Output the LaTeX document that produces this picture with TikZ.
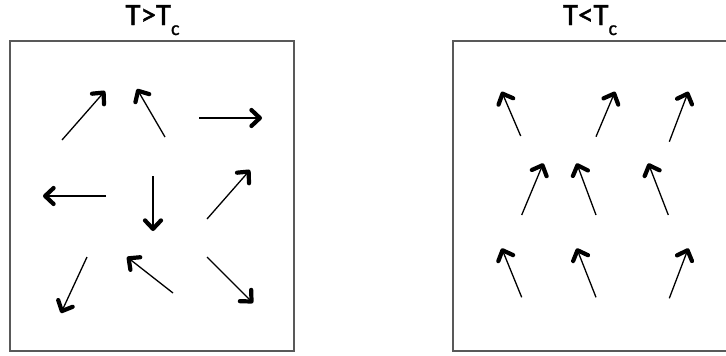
\documentclass[tikz,border=0pt]{standalone}
\usepackage{fontspec}
\setmainfont{Carlito}
\newfontfamily\titlefont[FakeBold=1.2]{Carlito}
\usetikzlibrary{arrows.meta}
\tikzset{
  spin/.style={line width=1.3pt, black,
    -{Straight Barb[length=8.5pt,width=16pt,line width=4.2pt,round]}},
  panel/.style={draw=black!65, line width=2pt},
  title/.style={anchor=base, inner sep=0pt, font=\titlefont\fontsize{31}{31}\selectfont}
}
\newcommand{\subc}{\raisebox{-10pt}{\fontsize{20}{20}\selectfont c}}
\begin{document}
\begin{tikzpicture}[x=1pt,y=-1pt]
\useasboundingbox (0,0) rectangle (726,356);
\fill[white] (0,0) rectangle (726,356);
% panels
\draw[panel] (10,41) rectangle (294,350.5);
\draw[panel] (453,41) rectangle (730,350.5);
\node[title] (t1) at (152.5,25) {T>T\subc};
\node[title] (t2) at (590,25) {T<T\subc};
% left panel (disordered)
\coordinate (a1) at (62,140);  \coordinate (b1) at (105,91);
\coordinate (a2) at (165,137); \coordinate (b2) at (137,89);
\coordinate (a3) at (199,118); \coordinate (b3) at (262,118);
\coordinate (a4) at (106,196); \coordinate (b4) at (43,196);
\coordinate (a5) at (153,176); \coordinate (b5) at (153,231);
\coordinate (a6) at (207,219); \coordinate (b6) at (250,170);
\coordinate (a7) at (87,257);  \coordinate (b7) at (61,313);
\coordinate (a8) at (173,293); \coordinate (b8) at (127,257);
\coordinate (a9) at (207,257); \coordinate (b9) at (253,303);
\foreach \i in {1,...,9} { \draw[spin] (a\i) -- (b\i); }
% right panel (ordered)
\coordinate (c1) at (520.7,136);   \coordinate (d1) at (501.7,91.7);
\coordinate (c2) at (596,136.7);   \coordinate (d2) at (615,91.7);
\coordinate (c3) at (669.3,141.7); \coordinate (d3) at (688.3,91.7);
\coordinate (c4) at (521.7,215);   \coordinate (d4) at (543.3,163.3);
\coordinate (c5) at (596,215);     \coordinate (d5) at (576.7,163.3);
\coordinate (c6) at (668.3,215);   \coordinate (d6) at (648.3,163.3);
\coordinate (c7) at (521.7,297.3); \coordinate (d7) at (501.7,248.3);
\coordinate (c8) at (596,297.3);   \coordinate (d8) at (576.7,248.3);
\coordinate (c9) at (669.3,298.3); \coordinate (d9) at (688.3,248.3);
\foreach \i in {1,...,9} { \draw[spin] (c\i) -- (d\i); }
\end{tikzpicture}
\end{document}
